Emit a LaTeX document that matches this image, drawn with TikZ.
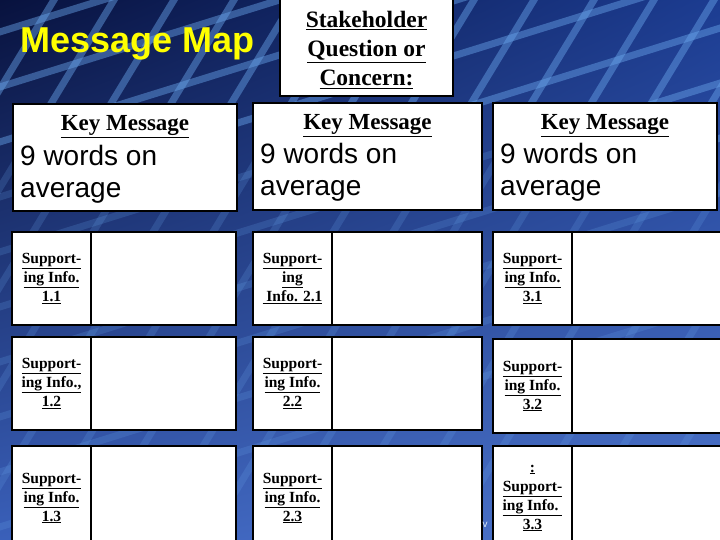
\documentclass[tikz,border=0pt]{standalone}
\usepackage{fontspec}
\setmainfont{Liberation Serif}
\setsansfont{Liberation Sans}
\usetikzlibrary{positioning, calc, shadings}
\definecolor{navytop}{RGB}{8,18,62}
\definecolor{navyright}{RGB}{28,60,145}
\definecolor{bluelow}{RGB}{58,96,186}
\definecolor{bluelowright}{RGB}{78,118,204}
\definecolor{netline}{RGB}{105,165,235}
\definecolor{titleyellow}{RGB}{255,255,0}
\tikzstyle{whitebox} = [
    rectangle,
    draw = black,
    fill = white,
    line width = 1.2pt,
    inner sep = 0pt,
    outer sep = 0pt,
]
\tikzstyle{netstroke} = [netline, line width = 7pt]
\tikzstyle{keybox} = [whitebox, minimum width = 224pt, minimum height = 107pt]
\tikzstyle{keytitle} = [anchor = base, inner sep = 0pt, font = \bfseries\fontsize{23}{27}\selectfont]
\tikzstyle{keybody} = [anchor = north west, inner sep = 0pt, align = left, font = \sffamily\fontsize{28}{32}\selectfont]
\tikzstyle{infolabel} = [whitebox, minimum width = 79pt, minimum height = 93pt, align = center, font = \bfseries\fontsize{15.5}{19}\selectfont]
\tikzstyle{infocell} = [whitebox, minimum height = 93pt]
\begin{document}
\begin{tikzpicture} [x = 1pt, y = -1pt]
    \useasboundingbox (0,0) rectangle (720,540);
    \clip (0,0) rectangle (720,540);
    % background with the net
    \shade[upper left = navytop, upper right = navyright, lower left = bluelow, lower right = bluelowright] (0,0) rectangle (720,540);
    \begin{scope}
        \clip (0,0) rectangle (720,150);
        \foreach \x in {0,60,...,1140} {
            \draw[netstroke, opacity = 0.45] (\x,-10) -- ($(\x,-10) + (-340,560)$);
        }
        \foreach \y in {-240,-185,...,560} {
            \draw[netstroke, opacity = 0.45] (-10,\y) -- ($(-10,\y) + (740,-230)$);
        }
    \end{scope}
    \begin{scope}
        \clip (0,150) rectangle (720,540);
        \foreach \x in {0,60,...,1140} {
            \draw[netstroke, opacity = 0.2] (\x,-10) -- ($(\x,-10) + (-340,560)$);
        }
        \foreach \y in {-240,-185,...,560} {
            \draw[netstroke, opacity = 0.2] (-10,\y) -- ($(-10,\y) + (740,-230)$);
        }
    \end{scope}

    \node (title) [anchor = base west, inner sep = 0pt, text = titleyellow, font = \sffamily\bfseries\fontsize{36}{40}\selectfont] at (20,53) {Message Map};
    \node (stake) [whitebox, anchor = north west, minimum width = 173pt, minimum height = 98pt] at (280,-2) {};
    \node (question) [align = center, inner sep = 0pt, font = \bfseries\fontsize{23.5}{29}\selectfont] at ($(stake.center) + (0,3)$) {\underline{Stakeholder}\\\underline{Question or}\\\underline{Concern:}};

    % key messages
    \node (key1) [keybox, anchor = north west] at (13,104) {};
    \node (key2) [keybox, anchor = north west, minimum width = 229pt] at (253,103) {};
    \node (key3) [keybox, anchor = north west] at (493,103) {};
    \node (kt1) [keytitle] at ($(key1.north) + (0,27)$) {\underline{Key Message}};
    \node (kt2) [keytitle] at ($(key2.north) + (0,27)$) {\underline{Key Message}};
    \node (kt3) [keytitle] at ($(key3.north) + (0,27)$) {\underline{Key Message}};
    \node (kb1) [keybody] at ($(key1.north west) + (7,41)$) {9 words on\\average};
    \node (kb2) [keybody] at ($(key2.north west) + (7,40)$) {9 words on\\average};
    \node (kb3) [keybody] at ($(key3.north west) + (7,40)$) {9 words on\\average};

    % supporting info, column 1
    \node (s11) [infolabel, anchor = north west] at (12,232) {\underline{Support-}\\\underline{ing Info.}\\\underline{1.1}};
    \node (c11) [infocell, right = 0pt of s11, minimum width = 145pt] {};
    \node (s12) [infolabel, anchor = north west] at (12,337) {\underline{Support-}\\\underline{ing Info.,}\\\underline{1.2}};
    \node (c12) [infocell, right = 0pt of s12, minimum width = 145pt] {};
    \node (s13) [infolabel, anchor = north west, minimum height = 104pt] at (12,446) {\underline{Support-}\\\underline{ing Info.}\\\underline{1.3}};
    \node (c13) [infocell, right = 0pt of s13, minimum width = 145pt, minimum height = 104pt] {};

    % column 2
    \node (s21) [infolabel, anchor = north west] at (253,232) {\underline{Support-}\\\underline{ing}\\\underline{\ Info. 2.1}};
    \node (c21) [infocell, right = 0pt of s21, minimum width = 150pt] {};
    \node (s22) [infolabel, anchor = north west] at (253,337) {\underline{Support-}\\\underline{ing Info.}\\\underline{2.2}};
    \node (c22) [infocell, right = 0pt of s22, minimum width = 150pt] {};
    \node (s23) [infolabel, anchor = north west, minimum height = 104pt] at (253,446) {\underline{Support-}\\\underline{ing Info.}\\\underline{2.3}};
    \node (c23) [infocell, right = 0pt of s23, minimum width = 150pt, minimum height = 104pt] {};

    % column 3, runs off the right edge
    \node (s31) [infolabel, anchor = north west] at (493,232) {\underline{Support-}\\\underline{ing Info.}\\\underline{3.1}};
    \node (c31) [infocell, right = 0pt of s31, minimum width = 190pt] {};
    \node (s32) [infolabel, anchor = north west, minimum height = 94pt] at (493,339) {\underline{Support-}\\\underline{ing Info.}\\\underline{3.2}};
    \node (c32) [infocell, right = 0pt of s32, minimum width = 190pt, minimum height = 94pt] {};
    \node (s33) [infolabel, anchor = north west, minimum height = 104pt] at (493,446) {\underline{:}\\\underline{Support-}\\\underline{ing Info.\ }\\\underline{3.3}};
    \node (c33) [infocell, right = 0pt of s33, minimum width = 190pt, minimum height = 104pt] {};

    \node (vmark) [inner sep = 0pt, text = white!75!netline, font = \sffamily\fontsize{10}{12}\selectfont] at (485,525) {v};
\end{tikzpicture}
\end{document}
